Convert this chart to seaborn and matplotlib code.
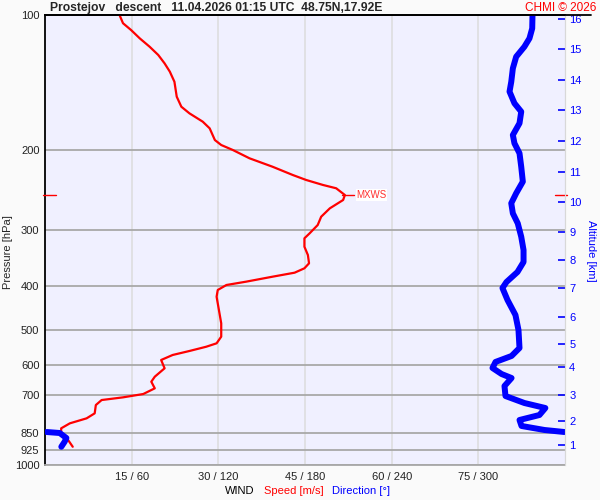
import numpy as np
import pandas as pd
import matplotlib
matplotlib.use('Agg')
import matplotlib.pyplot as plt
import matplotlib.transforms as mtransforms
from matplotlib.lines import Line2D
from matplotlib.ticker import FixedLocator, NullLocator
import seaborn as sns

# wind speed profile (m/s) vs pressure (hPa)
speed_hpa = [100.0, 104.3, 108.0, 112.7, 117.6, 122.7, 128.1, 133.6, 140.7, 151.9,
             159.9, 165.4, 172.6, 178.6, 189.6, 194.5, 199.5, 208.2, 217.4, 226.8,
             232.6, 238.6, 242.7, 251.2, 257.7, 268.9, 280.7, 292.9, 305.6, 313.5,
             327.3, 341.5, 356.3, 365.5, 373.8, 381.5, 391.4, 398.1, 408.4, 422.7,
             460.2, 484.3, 518.6, 536.5, 546.0, 558.0, 569.5, 584.3, 609.7, 636.5,
             653.0, 675.5, 695.5, 707.4, 717.2, 735.8, 767.7, 787.6, 808.0, 828.9,
             857.7, 880.0, 910.9]
speed_ms = [12.9, 13.5, 14.9, 16.4, 18.1, 19.6, 20.7, 21.6, 22.4, 22.8,
            23.6, 25.0, 27.3, 28.5, 29.4, 30.5, 32.5, 35.4, 39.4, 42.9,
            45.2, 48.1, 50.4, 51.9, 51.6, 49.3, 47.8, 47.2, 45.8, 44.9,
            44.9, 45.5, 45.7, 44.9, 43.2, 39.4, 34.8, 31.4, 29.9, 29.7,
            30.2, 30.5, 30.5, 29.7, 27.9, 25.0, 22.1, 20.1, 20.7, 19.0,
            18.4, 19.0, 17.0, 13.5, 9.8, 8.8, 8.6, 7.2, 4.3, 2.8,
            2.8, 4.0, 4.8]

# wind direction (deg) vs pressure (hPa)
dir_hpa = [100.0, 107.1, 112.7, 117.6, 123.8, 131.4, 140.7, 148.0, 157.1, 164.0,
           174.0, 184.8, 192.8, 202.9, 217.4, 234.6, 249.0, 262.0, 275.9, 290.4,
           311.0, 332.9, 353.9, 372.5, 392.0, 404.3, 429.9, 464.2, 501.2, 549.5,
           572.4, 590.2, 608.7, 627.8, 640.8, 667.5, 702.6, 728.2, 747.1, 774.3,
           794.3, 819.0, 836.0, 844.7, 844.7, 849.0, 871.0, 887.7, 910.9]
dir_deg = [337.5, 337.3, 335.4, 331.9, 326.2, 323.9, 322.8, 321.6, 325.0, 329.7,
           328.5, 323.9, 325.0, 328.5, 329.7, 330.8, 326.2, 322.8, 323.9, 327.3,
           329.7, 331.3, 331.3, 327.1, 319.5, 316.7, 320.2, 325.7, 327.8, 328.5,
           323.0, 311.9, 309.8, 316.1, 323.0, 318.1, 318.8, 331.9, 346.4, 342.3,
           328.5, 329.9, 345.8, 359.6, 1.2, 10.2, 14.8, 13.6, 11.3]

# axes ticks
p_ticks = [100, 200, 300, 400, 500, 600, 700, 850, 925, 1000]
spd_ticks = [15, 30, 45, 60, 75]
dir_ticks = [60, 120, 180, 240, 300]
alt_km = list(range(1, 17))
alt_hpa = [902.7, 798.4, 698.9, 605.7, 538.4, 469.0, 404.3, 350.4,
           303.5, 260.4, 223.4, 190.5, 162.6, 139.5, 119.0, 102.1]

title = "Prostejov   descent   11.04.2026 01:15 UTC  48.75N,17.92E"

sns.set_style('white')
plt.rcParams['font.family'] = ['Liberation Sans', 'DejaVu Sans']

fig = plt.figure(figsize=(6, 5), dpi=100, facecolor='#fafafa')
ax = fig.add_axes([45/600, 35/500, 520/600, 450/500])
ax.set_facecolor('#f0f0ff')

# speed line
df_spd = pd.DataFrame({'speed': speed_ms, 'p': speed_hpa})
# direction: in speed units (4 deg per m/s), break at the 360->0 wrap
d = np.array(dir_deg)
seg = np.concatenate([[0], np.cumsum(np.abs(np.diff(d)) > 180)])
df_dir = pd.DataFrame({'x': d / 4.0, 'p': dir_hpa, 'seg': seg})

sns.lineplot(data=df_spd, x='speed', y='p', sort=False, estimator=None,
             color='red', linewidth=1.6, ax=ax, zorder=3)
sns.lineplot(data=df_dir, x='x', y='p', units='seg', sort=False, estimator=None,
             color='blue', linewidth=4.3, ax=ax, zorder=4, solid_capstyle='round')

ax.set_yscale('log')
ax.set_ylim(1000, 100)
ax.set_xlim(0, 90)
ax.yaxis.set_major_locator(FixedLocator(p_ticks))
ax.yaxis.set_minor_locator(NullLocator())
ax.set_yticklabels([str(p) for p in p_ticks])
ax.set_xticks(spd_ticks)
ax.set_xticklabels([f"{s} / {d}" for s, d in zip(spd_ticks, dir_ticks)])
ax.tick_params(axis='both', length=0, labelsize=8, labelcolor='#222222')
ax.tick_params(axis='y', pad=4)
ax.tick_params(axis='x', pad=5)
ax.set_xlabel('')
ax.set_ylabel('')

ax.grid(axis='y', color='#a8a8a8', linewidth=1.3)
ax.grid(axis='x', color='#dcdcdc', linewidth=1.1)
ax.set_axisbelow(True)

for side in ['top', 'left']:
    ax.spines[side].set_color('black')
    ax.spines[side].set_linewidth(1.3)
ax.spines['bottom'].set_color('#a8a8a8')
ax.spines['bottom'].set_linewidth(1.3)
ax.spines['right'].set_color('#d8d8d8')

# altitude axis on the right
ax2 = ax.twinx()
ax2.set_yscale('log')
ax2.set_ylim(1000, 100)
ax2.yaxis.set_major_locator(FixedLocator(alt_hpa))
ax2.yaxis.set_minor_locator(NullLocator())
ax2.set_yticklabels([str(a) for a in alt_km])
ax2.tick_params(axis='y', direction='in', length=5, width=1.2, color='blue',
                labelcolor='blue', labelsize=8, pad=3)
for side in ['top', 'left', 'bottom']:
    ax2.spines[side].set_visible(False)
ax2.spines['right'].set_color('#d8d8d8')

# max wind marker
i_max = int(np.argmax(speed_ms))
p_max = speed_hpa[i_max]
s_max = speed_ms[i_max]
trans = mtransforms.blended_transform_factory(ax.transAxes, ax.transData)
ax.plot([-0.004, 0.021], [p_max, p_max], color='red', lw=1, transform=trans, clip_on=False, zorder=6)
ax.plot([0.981, 1.004], [p_max, p_max], color='red', lw=1, transform=trans, clip_on=False, zorder=6)
ax.plot([s_max - 0.5, s_max + 1.5], [p_max, p_max], color='red', lw=1, zorder=6)
ax.text(s_max + 2.0, p_max, 'MXWS', color='#ff3030', fontsize=7, va='center', ha='left',
        bbox=dict(facecolor='white', edgecolor='none', pad=0.5), zorder=6)

# header line and texts
fig.add_artist(Line2D([45/600, 591/600], [1 - 15/500, 1 - 15/500], color='black', lw=1.3))
fig.text(50/600, 1 - 8/500, title, fontsize=8.7, fontweight='bold', va='center', ha='left')
fig.text(596/600, 1 - 8/500, 'CHMI © 2026', fontsize=8.5, color='red', va='center', ha='right')

fig.text(225/600, 1 - 491/500, 'WIND', fontsize=8, color='black', va='center', ha='left')
fig.text(264/600, 1 - 491/500, 'Speed [m/s]', fontsize=8, color='red', va='center', ha='left')
fig.text(332/600, 1 - 491/500, 'Direction [°]', fontsize=8, color='blue', va='center', ha='left')
fig.text(8/600, 1 - 252/500, 'Pressure [hPa]', fontsize=8, rotation=90, va='center', ha='center')
fig.text(591/600, 1 - 251/500, 'Altitude [km]', fontsize=8, color='blue', rotation=270,
         va='center', ha='center')

fig.savefig('out.png', dpi=100, facecolor=fig.get_facecolor())
